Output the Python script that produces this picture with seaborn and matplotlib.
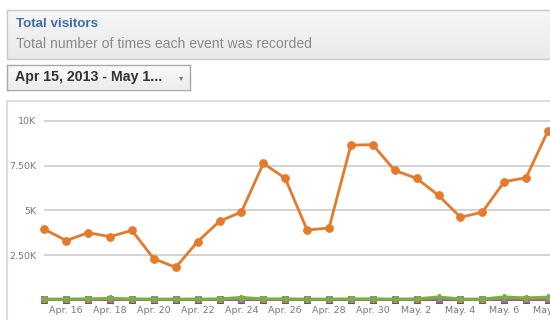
import matplotlib
matplotlib.use("Agg")
import matplotlib.pyplot as plt
import seaborn as sns
import pandas as pd
import numpy as np

# ---- data ----
dates = ["Apr. 15", "Apr. 16", "Apr. 17", "Apr. 18", "Apr. 19", "Apr. 20", "Apr. 21",
         "Apr. 22", "Apr. 23", "Apr. 24", "Apr. 25", "Apr. 26", "Apr. 27", "Apr. 28",
         "Apr. 29", "Apr. 30", "May. 1", "May. 2", "May. 3", "May. 4", "May. 5",
         "May. 6", "May. 7", "May. 8"]
visitors = [3950, 3320, 3760, 3540, 3890, 2310, 1830, 3260, 4400, 4910, 7620, 6790,
            3910, 4020, 8640, 8660, 7230, 6790, 5840, 4620, 4900, 6600, 6820, 9440]
series_green = [60, 60, 70, 100, 70, 60, 60, 60, 70, 150, 70, 70, 60, 60, 70, 70,
                60, 70, 180, 60, 60, 180, 120, 170]
series_red = [10, 10, 10, 10, 10, 10, 10, 10, 10, 10, 10, 10, 10, 10, 10, 10,
              10, 10, 10, 10, 10, 10, 10, 10]
series_blue = [40, 40, 40, 50, 40, 40, 40, 40, 40, 60, 40, 40, 40, 40, 40, 40,
               40, 40, 80, 40, 40, 90, 70, 90]
ytick_vals = [2500, 5000, 7500, 10000]
ytick_labels = ["2.50K", "5K", "7.50K", "10K"]

title = "Total visitors"
subtitle = "Total number of times each event was recorded"
range_label = "Apr 15, 2013 - May 1..."

W, H = 550, 320
sns.set_style("white")
plt.rcParams["font.family"] = ["DejaVu Sans"]

fig = plt.figure(figsize=(W / 100, H / 100), dpi=100)
fig.patch.set_facecolor("white")


def fx(px):
    return px / W


def fy(py):
    return 1 - py / H


grad = np.linspace(0, 1, 50).reshape(-1, 1)

# header box
bg = fig.add_axes([fx(7), fy(59), fx(570 - 7), (59 - 9.5) / H])
bg.set_xlim(0, 1)
bg.set_ylim(0, 1)
bg.imshow(grad, extent=[0, 1, 0, 1], aspect="auto",
          cmap=matplotlib.colors.LinearSegmentedColormap.from_list("g", ["#e9e9e9", "#f7f7f7"]),
          origin="lower")
for s in bg.spines.values():
    s.set_color("#c8c8c8")
    s.set_linewidth(1.0)
bg.set_xticks([])
bg.set_yticks([])

fig.text(fx(16), fy(24), title, color="#3d6da5", fontsize=9.6, fontweight="bold",
         family=["Liberation Sans", "DejaVu Sans"], va="center", ha="left")
fig.text(fx(16), fy(44), subtitle, color="#8a8a8a", fontsize=10.1,
         family=["Liberation Sans", "DejaVu Sans"], va="center", ha="left")

# dropdown
dd = fig.add_axes([fx(7), fy(89.5), fx(190 - 7), (89.5 - 65) / H])
dd.set_xlim(0, 1)
dd.set_ylim(0, 1)
dd.imshow(grad, extent=[0, 1, 0, 1], aspect="auto",
          cmap=matplotlib.colors.LinearSegmentedColormap.from_list("g2", ["#ececec", "#fbfbfb"]),
          origin="lower")
for s in dd.spines.values():
    s.set_color("#a8a8a8")
    s.set_linewidth(1.0)
dd.set_xticks([])
dd.set_yticks([])
fig.text(fx(15), fy(77.5), range_label, color="#333333", fontsize=10.2, fontweight="bold",
         family=["Liberation Sans", "DejaVu Sans"], va="center", ha="left")
fig.text(fx(181), fy(78), "\u25BE", color="#777777", fontsize=6, va="center", ha="center")

# chart panel border
panel = fig.add_axes([fx(7), fy(330), fx(570 - 7), (330 - 100.5) / H])
panel.set_xticks([])
panel.set_yticks([])
for s in panel.spines.values():
    s.set_color("#dddddd")
    s.set_linewidth(1.5)
panel.patch.set_alpha(0)

# main chart axes
px_per_day = 21.9
x0_px = 44.3
ax_top_px, ax_bot_px = 110, 300.2
val_per_px = 55.7
ax = fig.add_axes([fx(x0_px), fy(ax_bot_px), fx(W + 5 - x0_px), (ax_bot_px - ax_top_px) / H])
ax.patch.set_alpha(0)

idx = np.arange(len(dates))
df = pd.DataFrame({"i": idx, "visitors": visitors, "green": series_green,
                   "red": series_red, "blue": series_blue})

for v in ytick_vals:
    ax.axhline(v, color="#d0d0d0", lw=1.3, zorder=0)

sns.lineplot(data=df, x="i", y="red", ax=ax, color="#b23a30", lw=1.2, marker="s",
             markersize=5, markeredgecolor="#b23a30", clip_on=False, zorder=3)
sns.lineplot(data=df, x="i", y="blue", ax=ax, color="#7b78b8", lw=1.2, marker="s",
             markersize=4, markeredgecolor="#7b78b8", clip_on=False, zorder=4)
sns.lineplot(data=df, x="i", y="green", ax=ax, color="#7fae3e", lw=2.2, marker="P",
             markersize=5, markeredgecolor="#7fae3e", clip_on=False, zorder=5)
sns.lineplot(data=df, x="i", y="visitors", ax=ax, color="#e47a2a", lw=2.0, marker="o",
             markersize=5.5, markeredgecolor="#e47a2a", clip_on=False, zorder=6)

xmax = (W + 5 - x0_px) / px_per_day
ax.set_xlim(0, xmax)
ax.set_ylim(0, (ax_bot_px - ax_top_px) * val_per_px)

ax.set_yticks(ytick_vals)
ax.set_yticklabels(ytick_labels)
ax.set_xticks(idx[1::2])
ax.set_xticklabels(dates[1::2])
ax.tick_params(axis="both", length=0, labelsize=6.8, labelcolor="#777777")
ax.tick_params(axis="y", pad=6)
ax.tick_params(axis="x", pad=4)
ax.set_xlabel("")
ax.set_ylabel("")
for s in ax.spines.values():
    s.set_visible(False)
if ax.get_legend():
    ax.get_legend().remove()

fig.savefig("out.png", dpi=100)
